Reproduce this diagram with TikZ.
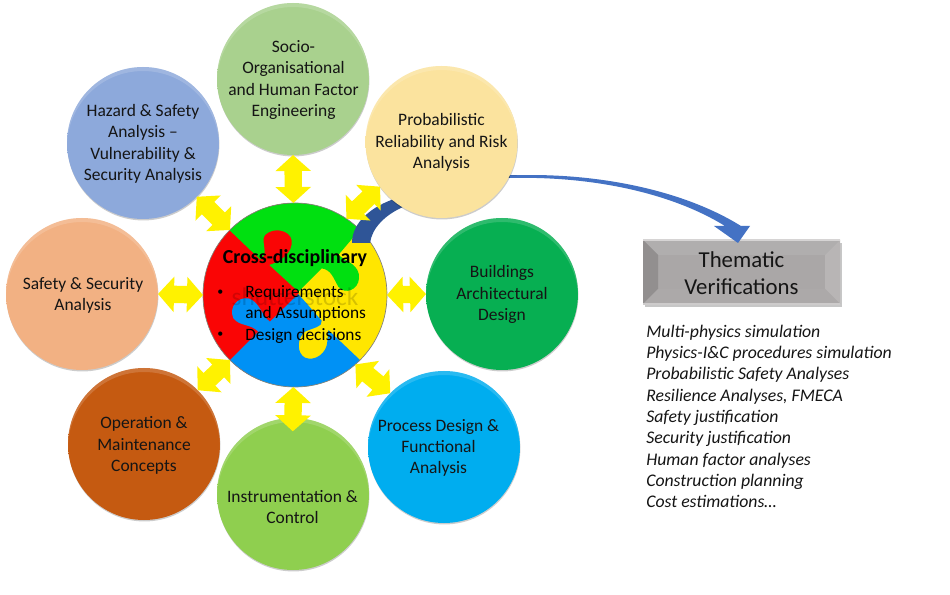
\documentclass[tikz,border=0pt]{standalone}
\usepackage{fontspec}
\setmainfont{Carlito}
\usetikzlibrary{arrows.meta,calc,shadows}
\definecolor{txt}{HTML}{151515}
\definecolor{pzred}{HTML}{FA0505}
\definecolor{pzgreen}{HTML}{00E010}
\definecolor{pzblue}{HTML}{0091F5}
\definecolor{pzyellow}{HTML}{FFE600}
\newcommand\mkbev[4]{%
  \definecolor{bev#1a}{HTML}{#2}\definecolor{bev#1b}{HTML}{#3}\definecolor{bev#1c}{HTML}{#4}%
  \pgfdeclareradialshading{bev#1}{\pgfpoint{0bp}{0bp}}{color(0bp)=(bev#1a);color(42bp)=(bev#1a);color(48bp)=(bev#1b);color(50bp)=(bev#1c)}}
\mkbev{S}{A9D18E}{A5CE89}{9AC480}
\mkbev{P}{FBE39E}{F9E09A}{EDD38A}
\mkbev{B}{07AF52}{06AD50}{02A24A}
\mkbev{R}{00ADEF}{08B0F0}{0AA2E0}
\mkbev{I}{8FCF4F}{8BCB4B}{81BF44}
\mkbev{O}{C55A11}{C25910}{B2510E}
\mkbev{A}{F2B183}{F0AE80}{E4A376}
\mkbev{H}{8DA9DB}{8AA6D9}{7F9ACB}
\tikzset{
  bubble/.style={circle,minimum size=114pt,inner sep=0pt,outer sep=0pt,shade,shading=#1,
    drop shadow={shadow xshift=0.3pt,shadow yshift=-1.1pt,opacity=0.2,fill=black}},
  bubtext/.style={align=center,inner sep=0pt,text=txt,font=\fontsize{13.1pt}{16pt}\selectfont},
  yarrow/.style={draw=yellow,line width=13pt,{Triangle[length=12pt,width=26pt,fill=yellow]}-{Triangle[length=12pt,width=26pt,fill=yellow]}},
  hubtext/.style={anchor=base west,inner sep=0pt,text=black,font=\fontsize{13pt}{16pt}\selectfont},
}
\begin{document}
\begin{tikzpicture}[x=0.75pt,y=-0.75pt]
\useasboundingbox (0,0) rectangle (950,595);
\fill[white] (0,0) rectangle (950,595);
% hub
\node[circle,minimum size=138pt,inner sep=0pt,outer sep=0pt,fill=pzyellow] (hub) at (295,295) {};
\begin{scope}
\clip (295,295) circle (92);
\begin{scope}[shift={(190,190)},x=0.25pt,y=-0.25pt]
\fill[pzred] (0,0) -- (330,0) -- (325,312) -- (200,600) -- (0,600) -- cycle;
\fill[pzgreen] (120,122) -- (120,20) -- (540,20) -- (500,130) -- (445,195)
  .. controls (470,215) and (510,225) .. (507,265)
  .. controls (505,300) and (465,315) .. (445,290)
  .. controls (430,265) and (425,240) .. (395,235)
  -- (325,305) -- (238,225)
  .. controls (270,215) and (310,190) .. (305,150)
  .. controls (300,120) and (250,110) .. (225,135)
  .. controls (210,155) and (240,195) .. (210,208) -- cycle;
\fill[pzblue] (120,510) -- (205,425)
  .. controls (180,400) and (150,410) .. (130,385)
  .. controls (115,350) and (145,320) .. (175,325)
  .. controls (210,335) and (215,380) .. (240,395)
  -- (325,312) -- (395,392)
  .. controls (400,410) and (365,415) .. (345,425)
  .. controls (320,445) and (320,490) .. (345,503)
  .. controls (375,515) and (410,490) .. (412,455)
  -- (415,420) -- (510,510) -- (540,620) -- (100,620) -- cycle;
\end{scope}
\end{scope}
\draw[gray,line width=0.5pt] (hub.center) circle (92);
% curved blue arrow tail
\fill[fill={rgb,255:red,47;green,85;blue,151}] (352,243) -- (370,243)
  .. controls (372,228) and (385,215) .. (403,207) -- (397,198)
  .. controls (372,206) and (352,222) .. cycle;
\fill[fill={rgb,255:red,47;green,85;blue,151}] (500,175.5) -- (530,175.5) -- (530,178) -- (500,178) -- cycle;
% outer circles
\node[bubble=bevS] (socio) at (293,79) {};
\node[bubble=bevP] (prob) at (441.5,142) {};
\node[bubble=bevB] (build) at (502,294) {};
\node[bubble=bevR] (proc) at (444,447) {};
\node[bubble=bevI] (instr) at (293,494) {};
\node[bubble=bevO] (oper) at (144,444) {};
\node[bubble=bevA] (safe) at (82,294) {};
\node[bubble=bevH] (haz) at (143,143) {};
% bevel highlights on the circles
\foreach \n in {socio,prob,build,proc,instr,oper,safe,haz}{
  \begin{scope}
  \clip (\n.center) circle (76);
  \fill[white,opacity=0.16,even odd rule] (\n.center) circle (78) ($(\n.center)+(0,4)$) circle (76);
  \end{scope}
}
\node[bubtext] (sociot) at ($(socio)+(0.5,1)$) {Socio-\\Organisational\\and Human Factor\\Engineering};
\node[bubtext] (probt) at ($(prob)+(0,0.5)$) {Probabilistic\\Reliability and Risk\\Analysis};
\node[bubtext] (buildt) at ($(build)+(0,0.5)$) {Buildings\\Architectural\\Design};
\node[bubtext] (proct) at ($(proc)+(-5.5,1)$) {Process Design \&\\Functional\\Analysis};
\node[bubtext] (instrt) at ($(instr)+(-0.5,13)$) {Instrumentation \&\\Control};
\node[bubtext] (opert) at ($(oper)+(0,1.5)$) {Operation \&\\Maintenance\\Concepts};
\node[bubtext] (safet) at ($(safe)+(1,1.5)$) {Safety \& Security\\Analysis};
\node[bubtext] (hazt) at ($(haz)+(0,1)$) {Hazard \& Safety\\Analysis --\\Vulnerability \&\\Security Analysis};
% yellow double arrows
\draw[yarrow] (hub.91) -- (socio.south);
\draw[yarrow] (hub.56) -- (prob.216);
\draw[yarrow] (hub.0) -- (build.180);
\draw[yarrow] (hub.-49) -- (proc.135);
\draw[yarrow,shorten >=-10pt] (hub.269) -- (instr.north);
\draw[yarrow] (hub.225) -- (oper.45);
\draw[yarrow] (hub.180) -- (safe.0);
\draw[yarrow] (hub.135) -- (haz.-45);
% hub texts
\node[inner sep=0pt,text=black,opacity=0.16,font=\fontsize{19pt}{20pt}\selectfont] (wm) at (295,297) {shutterstock};
\node[inner sep=0pt,text=black,font=\fontsize{14.9pt}{16pt}\bfseries\selectfont] (title) at (295,258) {Cross-disciplinary};
\node[hubtext,font=\fontsize{9pt}{10pt}\selectfont] (b1) at (217,296) {•};
\node[hubtext] (t1) at (245,298) {Requirements};
\node[hubtext] (t2) at (245,319) {and Assumptions};
\node[hubtext,font=\fontsize{9pt}{10pt}\selectfont] (b2) at (217,338) {•};
\node[hubtext] (t3) at (245,341) {Design decisions};
% thematic box
\fill[black,opacity=0.22] (645,243) rectangle (842,307);
\node[rectangle,minimum width=147.75pt,minimum height=48pt,inner sep=0pt,outer sep=0pt,fill={rgb,255:red,170;green,167;blue,167}] (box) at (741.5,272) {};
\fill[fill={rgb,255:red,176;green,174;blue,174}] (box.north west) -- (box.north east) -- ++(-15,15) -- ($(box.north west)+(15,15)$) -- cycle;
\fill[fill={rgb,255:red,146;green,143;blue,143}] (box.north west) -- (box.south west) -- ++(15,-15) -- ($(box.north west)+(15,15)$) -- cycle;
\fill[fill={rgb,255:red,184;green,181;blue,181}] (box.north east) -- (box.south east) -- ++(-15,-15) -- ($(box.north east)+(-15,15)$) -- cycle;
\fill[fill={rgb,255:red,172;green,169;blue,169}] (box.south west) -- (box.south east) -- ++(-15,-15) -- ($(box.south west)+(15,-15)$) -- cycle;
\draw[line width=1.2pt,draw={rgb,255:red,214;green,212;blue,212}] (box.north west) -- (box.north east);
\draw[line width=1.2pt,draw={rgb,255:red,205;green,203;blue,203}] (box.south west) -- (box.south east);
\node[align=center,text=txt,inner sep=0pt,font=\fontsize{17.1pt}{20.6pt}\selectfont] (boxtext) at ($(box.center)+(0,1)$) {Thematic\\Verifications};
% curved blue arrow head, over the box
\fill[fill={rgb,255:red,68;green,114;blue,196}] (510,175.5) .. controls (590,172) and (680,188) .. (741,226)
  -- (750,226) -- (738,243) -- (714,226) -- (725,226)
  .. controls (670,192) and (590,176) .. (510,178) -- cycle;
% list
\node[anchor=north west,inner sep=0pt,align=left,text=txt,font=\fontsize{13.3pt}{16pt}\itshape\selectfont] (list) at (646,324.5)
 {Multi-physics simulation\\Physics-I\&C procedures simulation\\Probabilistic Safety Analyses\\Resilience Analyses, FMECA\\Safety justification\\Security justification\\Human factor analyses\\Construction planning\\Cost estimations…};
\end{tikzpicture}
\end{document}
